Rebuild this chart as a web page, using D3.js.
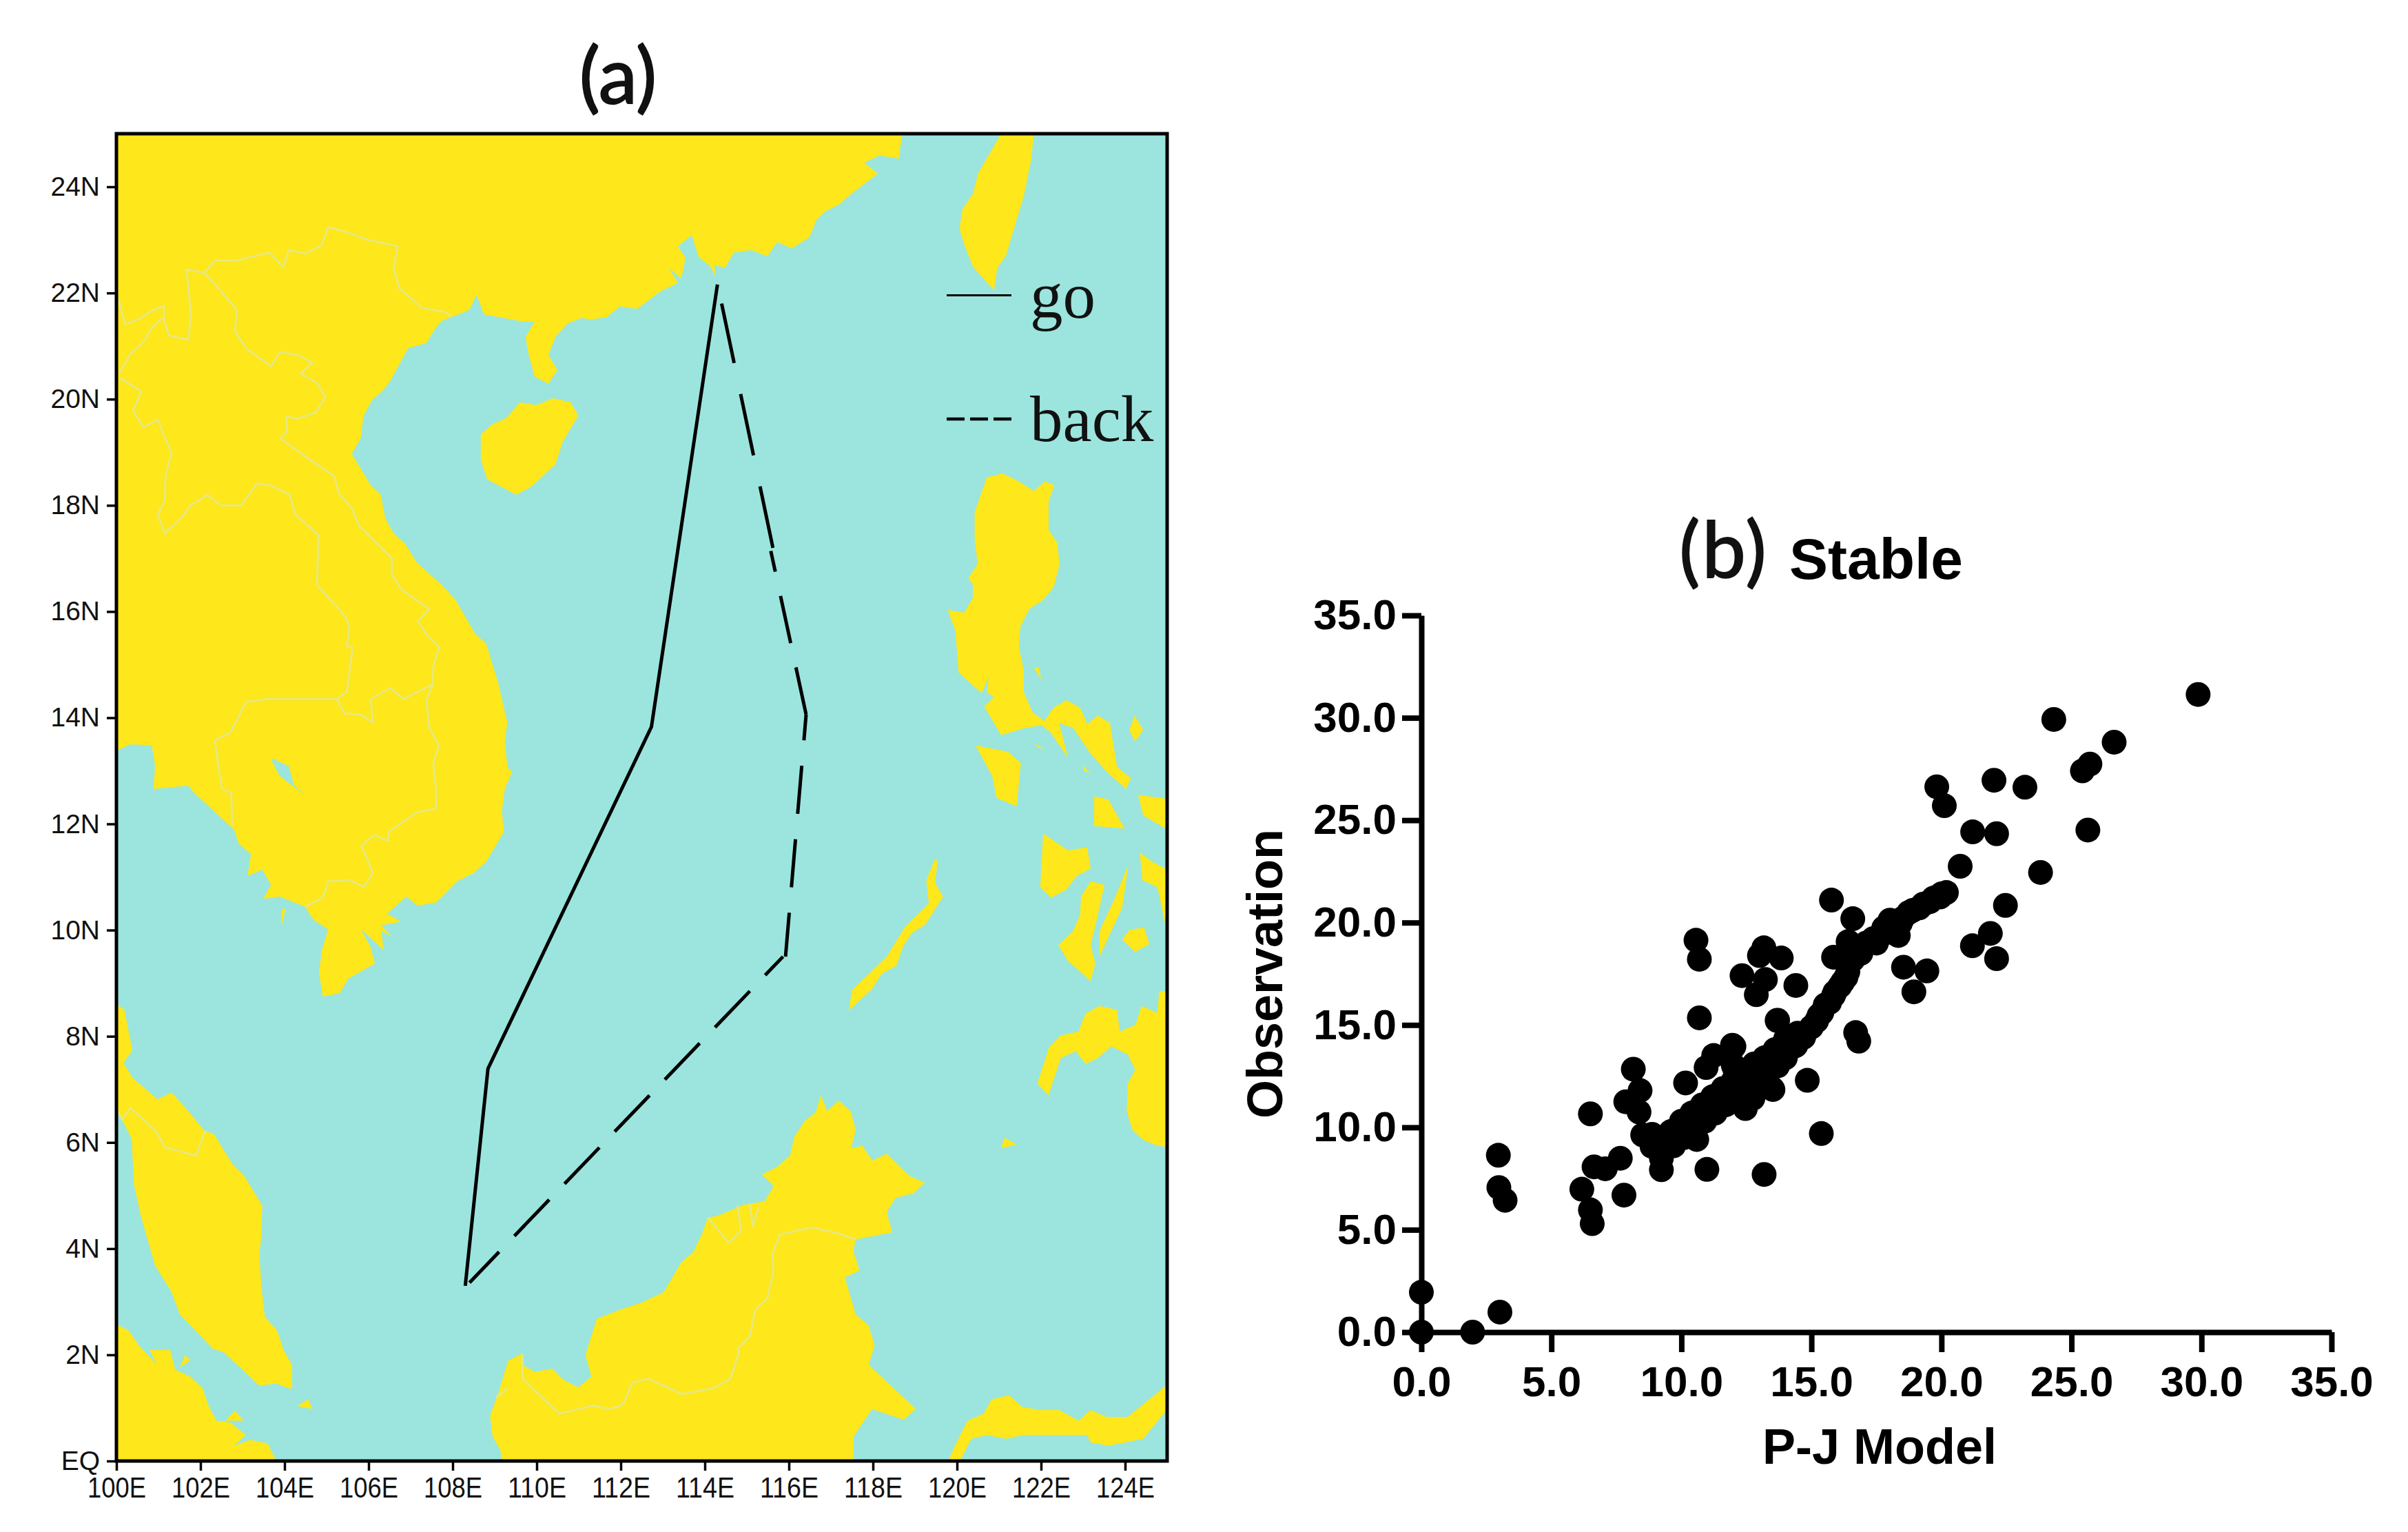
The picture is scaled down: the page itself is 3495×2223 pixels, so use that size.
<!DOCTYPE html>
<html>
<head>
<meta charset="utf-8">
<script src="https://cdn.jsdelivr.net/npm/d3@7"></script>
<style>
  body { margin: 0; background: #fff; }
  svg { display: block; }
</style>
</head>
<body>
<script>
// ---- panel (a): map data, all [lon, lat] ----
const lonTicks = [100, 102, 104, 106, 108, 110, 112, 114, 116, 118, 120, 122, 124];
const latTicks = [0, 2, 4, 6, 8, 10, 12, 14, 16, 18, 20, 22, 24];

const mainland = [[100,25],[118.69,25],[118.62,24.53],[118.16,24.59],[117.79,24.45],[118.12,24.25],[117.49,23.87],[117.2,23.67],[116.87,23.54],[116.66,23.38],[116.49,23.05],[116.07,22.84],[115.72,22.96],[115.49,22.69],[115.11,22.81],[114.69,22.76],[114.48,22.48],[114.23,22.52],[114.25,22.33],[114.11,22.52],[113.86,22.67],[113.69,23.09],[113.36,22.88],[113.54,22.66],[113.44,22.27],[113.15,22.47],[113.36,22.19],[112.94,22.03],[112.39,21.7],[111.98,21.75],[111.66,21.54],[111.25,21.5],[111.08,21.53],[110.74,21.43],[110.45,21.18],[110.28,20.83],[110.49,20.55],[110.28,20.29],[109.95,20.42],[109.78,20.93],[109.74,21.18],[109.95,21.46],[109.62,21.47],[108.74,21.6],[108.57,21.97],[108.4,21.68],[107.98,21.55],[107.73,21.47],[107.57,21.31],[107.38,21.06],[106.94,20.96],[106.52,20.35],[106.35,20.17],[106.08,19.98],[105.88,19.68],[105.81,19.26],[105.6,18.97],[106.06,18.37],[106.29,18.2],[106.4,17.75],[106.61,17.46],[106.86,17.29],[107.15,16.92],[107.73,16.51],[108.07,16.22],[108.53,15.59],[108.8,15.39],[109.09,14.64],[109.3,13.91],[109.24,13.53],[109.31,13.05],[109.42,12.99],[109.24,12.66],[109.17,12.24],[109.22,11.85],[108.8,11.29],[108.49,11.07],[108.11,10.92],[107.61,10.52],[107.17,10.46],[106.9,10.63],[106.44,10.31],[106.77,10.16],[106.3,10.09],[106.55,9.88],[106.31,9.98],[106.35,9.63],[105.81,10.02],[106.05,9.68],[106.15,9.37],[105.52,9.09],[105.31,8.81],[104.91,8.75],[104.82,9.2],[104.89,9.63],[105.04,10.01],[104.68,10.2],[104.49,10.44],[103.89,10.63],[103.49,10.59],[103.68,10.85],[103.47,11.14],[103.12,11.02],[103.2,11.43],[102.91,11.63],[102.8,11.89],[101.84,12.59],[101.71,12.72],[100.88,12.66],[100.92,13.09],[100.84,13.48],[100.33,13.5],[100,13.38]];
const tonleSap = [[103.68,13.24],[104.1,13.09],[104.22,12.74],[104.51,12.53],[103.89,12.9],[103.72,13.15]];
const hainan = [[109.6,19.94],[109.99,19.89],[110.39,20.02],[110.81,19.94],[110.99,19.69],[110.62,19.2],[110.45,18.78],[109.87,18.35],[109.51,18.2],[108.82,18.49],[108.67,18.86],[108.67,19.34],[108.95,19.53],[109.28,19.65]];
const taiwan = [[121.05,25],[121.83,25],[121.76,24.49],[121.59,23.83],[121.34,23.17],[121.17,22.71],[120.96,22.47],[120.88,22.05],[120.38,22.49],[120.17,22.92],[120.06,23.21],[120.13,23.58],[120.38,23.87],[120.5,24.25]];
const luzon = [[120.71,18.53],[121.09,18.6],[121.47,18.45],[121.83,18.27],[122.09,18.45],[122.32,18.38],[122.18,18.08],[122.18,17.54],[122.39,17.29],[122.44,16.88],[122.3,16.46],[122.05,16.22],[121.72,16.05],[121.51,15.72],[121.47,15.35],[121.59,14.89],[121.59,14.48],[121.8,14.1],[122.08,13.94],[122.3,14.19],[122.6,14.33],[122.93,14.19],[123.1,13.88],[123.35,14.04],[123.64,13.9],[123.81,13.07],[124.14,12.86],[124.02,12.66],[123.6,12.95],[123.18,13.32],[122.76,13.81],[122.43,13.9],[122.64,13.25],[122.22,13.73],[122.01,13.86],[121.59,13.8],[121.05,13.67],[120.65,14.21],[120.88,14.39],[120.71,14.48],[120.75,14.77],[120.59,14.46],[120.04,14.85],[119.96,15.64],[119.78,16.03],[120.17,15.98],[120.38,16.26],[120.38,16.51],[120.27,16.63],[120.49,16.89],[120.42,17.37],[120.42,17.87]];
const mindoro = [[120.44,13.48],[121.21,13.36],[121.52,13.15],[121.42,12.33],[120.94,12.49],[120.84,12.9]];
const palawan = [[119.46,11.31],[119.54,11.33],[119.48,10.89],[119.67,10.63],[119.25,10.11],[118.92,9.94],[118.71,9.68],[118.56,9.33],[118.21,9.18],[117.98,8.89],[117.43,8.49],[117.5,8.87],[118.33,9.5],[118.77,10.07],[119.33,10.5],[119.27,10.94]];
const panay = [[122.05,11.82],[122.64,11.5],[123.1,11.56],[123.18,11.16],[122.85,11.02],[122.6,10.76],[122.24,10.61],[121.98,10.81]];
const negros = [[123.18,10.92],[123.51,10.85],[123.3,10.11],[123.18,9.72],[123.29,9.37],[123.18,9.04],[122.64,9.42],[122.41,9.72],[122.76,9.98],[122.93,10.29],[122.95,10.63]];
const cebu = [[124.08,11.24],[123.93,10.42],[123.39,9.5],[123.39,9.98],[123.77,10.63]];
const bohol = [[123.93,9.82],[124.1,10],[124.45,10.05],[124.58,9.74],[124.24,9.59]];
const leyte = [[124.35,11.46],[124.64,11.29],[125.1,11.1],[125.1,10.1],[124.94,10.16],[124.77,10.81],[124.41,10.94]];
const samar = [[124.31,12.55],[125.1,12.46],[125.1,11.85],[124.43,12.16]];
const masbate = [[123.26,12.52],[123.6,12.46],[123.99,11.91],[123.26,11.96]];
const mindanao = [[121.91,7.11],[122.19,7.79],[122.47,8.02],[122.89,8.09],[123.06,8.43],[123.39,8.57],[123.81,8.5],[123.87,8.09],[124.25,8.22],[124.39,8.57],[124.77,8.44],[124.81,8.85],[125.1,8.85],[125.1,5.91],[124.77,5.94],[124.43,6.05],[124.17,6.24],[124.04,6.59],[124.06,7.11],[124.24,7.37],[124.06,7.66],[123.67,7.81],[123.35,7.59],[123.06,7.48],[122.83,7.72],[122.47,7.59],[122.18,6.89]];
const borneo = [[109.16,0],[109.14,0.2],[108.95,0.46],[108.89,0.85],[109.07,1.24],[109.32,1.89],[109.64,2.02],[109.67,1.81],[109.95,1.68],[110.37,1.74],[110.64,1.53],[110.99,1.39],[111.3,1.59],[111.16,2],[111.43,2.68],[111.98,2.85],[112.48,2.98],[113.02,3.18],[113.44,3.74],[113.73,3.94],[113.94,4.29],[114.07,4.59],[114.28,4.61],[114.94,4.83],[115.42,4.89],[115.64,5.18],[115.36,5.4],[115.74,5.55],[116.03,5.76],[116.13,6.11],[116.37,6.4],[116.64,6.57],[116.76,6.89],[116.91,6.59],[117.18,6.79],[117.47,6.59],[117.59,6.24],[117.48,5.89],[117.75,5.94],[117.98,5.66],[118.33,5.79],[118.87,5.37],[119.23,5.24],[118.96,5.04],[118.54,4.96],[118.33,4.69],[118.46,4.31],[117.58,4.17],[117.54,3.94],[117.68,3.59],[117.33,3.46],[117.59,2.76],[117.9,2.55],[118.04,2.18],[117.9,1.81],[119.02,0.98],[118.73,0.78],[117.98,0.98],[117.54,0.46],[117.54,0]];
const sulawesi = [[119.8,0],[119.92,0.24],[120.25,0.76],[120.63,0.89],[120.82,1.16],[121.24,1.24],[121.55,1.02],[121.97,0.96],[122.43,0.96],[122.89,0.76],[123.18,0.96],[123.56,0.83],[124.06,0.83],[125.1,1.5],[125.1,1.07],[124.43,0.42],[123.6,0.29],[123.18,0.35],[123.1,0.49],[121.59,0.49],[121.17,0.42],[120.71,0.49],[120.34,0.42],[120.07,0]];
const malayPeninsula = [[100,8.61],[100.19,8.5],[100.38,7.74],[100.17,7.5],[100.38,7.22],[100.98,6.81],[101.31,6.94],[101.67,6.63],[102.09,6.22],[102.32,6.16],[102.76,5.59],[103.05,5.36],[103.47,4.81],[103.45,4.24],[103.4,3.89],[103.45,3.29],[103.53,2.72],[103.82,2.46],[103.99,2.07],[104.18,1.81],[104.18,1.35],[103.8,1.46],[103.4,1.42],[102.55,2.05],[102.3,2.11],[101.51,2.76],[101.3,3.2],[100.92,3.68],[100.59,4.59],[100.42,5.2],[100.36,6.07],[100.03,6.59],[100,6.6]];
const sumatra = [[100,2.57],[100.29,2.46],[100.54,2.17],[100.96,1.82],[100.79,2.09],[101.28,2.09],[101.4,1.72],[101.76,1.59],[102.05,1.37],[102.2,1.03],[102.38,0.76],[102.72,0.72],[103.08,0.49],[102.8,0.29],[102.42,0.18],[103.18,0.4],[103.6,0.33],[103.8,0],[100,0]];
const smallIslands = [
  [[103.93,10.37],[104.03,10.42],[103.93,10.07]],
  [[121.84,14.93],[121.94,14.96],[122.01,14.71]],
  [[124.23,14.04],[124.43,13.77],[124.24,13.55],[124.1,13.77]],
  [[121.84,13.52],[122.09,13.4],[121.93,13.44]],
  [[122.97,13.11],[123.18,12.95],[123.03,13]],
  [[121.13,6.09],[121.42,5.96],[121.05,5.89]],
  [[101.51,1.76],[101.63,2],[101.76,1.9]],
  [[102.59,0.76],[102.82,0.95],[103.03,0.76]],
  [[104.29,1.04],[104.57,1.16],[104.66,0.98]]
];

const borderChina = [[100.04,21.89],[100.21,21.41],[100.54,21.51],[100.92,21.7],[101.13,21.75],[101.13,21.5],[101.25,21.2],[101.71,21.12],[101.77,21.6],[101.67,22.44],[102.09,22.38],[102.34,22.61],[102.84,22.61],[103.64,22.76],[103.97,22.49],[104.1,22.81],[104.49,22.74],[104.89,22.9],[105.03,23.24],[105.47,23.15],[105.98,23],[106.69,22.88],[106.6,22.47],[106.73,22.09],[107.27,21.72],[107.82,21.64],[107.98,21.55]];
const borderVietnam = [[102.09,22.38],[102.47,22.05],[102.87,21.68],[102.82,21.28],[103.09,20.95],[103.68,20.62],[103.89,20.89],[104.31,20.83],[104.67,20.69],[104.39,20.48],[104.77,20.31],[104.97,20.04],[104.74,19.75],[104.31,19.63],[104.04,19.68],[104.06,19.4],[103.9,19.26],[104.52,18.91],[105.18,18.55],[105.31,18.2],[105.6,17.95],[105.77,17.62],[106.56,17],[106.55,16.71],[106.77,16.42],[107.44,16.05],[107.17,15.82],[107.4,15.55],[107.68,15.33],[107.54,14.97],[107.53,14.63],[107.38,14.35],[107.44,13.81],[107.67,13.48],[107.54,13.15],[107.61,12.59],[107.6,12.29],[107.15,12.22],[106.48,11.85],[106.46,11.68],[106.13,11.79],[105.83,11.59],[106.1,11.07],[105.89,10.81],[105.56,10.94],[105.04,10.92],[104.91,10.61],[104.49,10.44]];
const borderLaos = [[100.08,20.4],[100.59,20.15],[100.4,19.78],[100.64,19.47],[100.98,19.61],[101.31,18.99],[101.17,18.57],[101.15,18.08],[100.98,17.83],[101.15,17.47],[101.53,17.75],[101.76,18],[102.17,18.2],[102.47,18],[102.97,18],[103.34,18.41],[103.68,18.37],[104.12,18.2],[104.26,17.83],[104.81,17.44],[104.77,16.5],[105.48,15.88],[105.54,15.64],[105.48,15.35],[105.62,15.32],[105.48,14.48],[105.24,14.35],[105.43,14.08],[105.81,14.06],[106.1,13.91],[106.05,14.35],[106.52,14.56],[106.83,14.35],[107.53,14.63]];
const borderCambodia = [[105.24,14.35],[103.55,14.35],[103.09,14.3],[102.72,13.73],[102.34,13.57],[102.42,13.15],[102.51,12.66],[102.73,12.59],[102.76,11.98]];
const borderMyanmar = [[100.08,20.5],[100.33,20.85],[100.67,21.1],[100.84,21.35],[101.11,21.53]];
const borderMalaysia = [[100.03,6.59],[100.13,6.43],[100.33,6.65],[100.94,6.22],[101.15,5.91],[101.9,5.75],[102.11,6.22]];
const borderSarawak = [[109.03,1.2],[109.31,1.37]];
const borderKalimantan = [[109.66,2.02],[109.66,1.55],[110.54,0.89],[111.33,1.04],[111.75,0.98],[111.98,1.04],[112.1,1.13],[112.27,1.48],[112.65,1.55],[113.46,1.26],[114.19,1.37],[114.61,1.55],[114.82,2.07],[114.78,2.11],[115.07,2.35],[115.2,2.85],[115.49,3.07],[115.63,3.55],[115.61,3.89],[115.78,4.26],[116.53,4.4],[117.16,4.29],[117.59,4.17]];
const borderBrunei = [[114.07,4.59],[114.57,4.11],[114.86,4.33],[114.78,4.81]];
const borderBrunei2 = [[115.07,4.85],[115.14,4.42],[115.28,4.76]];

const goTrack = [[114.3,22.16],[112.73,13.83],[108.84,7.39],[108.3,3.3]];
const backLegSouth = [[108.4,3.36],[115.86,9.5]];
const backLegMiddle = [[115.92,9.5],[116.41,14.06]];
const backLegUpper = [[116.41,14.06],[115.57,17.14]];
const backLegNorth = [[115.62,17.2],[114.4,21.8]];

// ---- panel (b): scatter data ----
const axisTicks = [0, 5, 10, 15, 20, 25, 30, 35];
const modelValues = [29.87,24.32,26.64,25.71,25.42,19.82,20.11,22.02,23.21,21.2,22.12,25.63,20.72,23.81,22.46,15.77,16.59,21.88,21.19,22.12,18.54,19.44,18.94,13.17,13,13.84,12.33,13.23,12.88,14.4,13.7,16.7,16.82,14.84,13.52,12.02,11.99,
  20.19,19.95,19.55,19.15,18.74,18.42,18.02,17.78,18.34,17.38,16.9,16.41,16.41,15.85,16.41,16.33,16.09,15.85,15.53,15.29,14.73,14.32,14,13.52,13.04,12.55,12.07,11.59,
  0,0,1.97,3.02,2.96,2.98,3.22,6.5,8.15,8.41,7.86,8.37,8.51,8.87,9.23,9.23,8.87,7.65,7.07,6.64,6.17,6.5,6.57,7.79,10.98,13.18,10.59,10.16,10.95,11.24,11.96,12.03,10.69,13.68,13.47,12.46,12.75,10.56,10.69,15.38,
  9.44,9.88,10.3,10.74,11.17,11.6,12.03,12.46,12.89,13.32,13.75,14.11,14.47,
  9.7,10.1,10.5,10.9,11.3,11.7,12.1,12.5,12.9,13.3,13.7,14,14.4,14.7,15,15.2,15.4,15.7,15.9,16.2,16.4,
  9.2,9.6,10,10.4,10.8,11.2,11.6,12,12.4,12.8,13.2,13.6,14,
  16.6,16.9,17.1,17.5,17.7,18.1,18.2,18.5,18.9,19.3,19.7,20];
const observedValues = [31.14,29.92,28.81,27.74,27.41,26.63,25.71,26.95,26.61,24.43,24.34,24.52,22.75,22.45,20.84,21.1,20.19,19.47,18.87,18.24,17.82,17.64,16.62,18.77,18.39,18.27,17.41,17.22,16.48,16.93,15.23,14.63,14.21,12.3,11.85,13.95,13.05,
  21.47,21.25,21.02,20.72,20.49,19.97,20.12,19.74,19.37,19.22,18.84,19.07,18.46,18.31,17.94,17.34,16.89,16.44,15.98,15.46,14.55,13.95,13.58,13.13,12.67,12.22,11.92,11.55,
  1.95,0,0,0.98,8.64,7.06,6.44,10.66,12.84,11.8,11.25,10.75,9.63,9.66,7.93,8.49,9.07,8.49,7.98,8.07,6.98,5.97,5.3,6.69,7.95,7.7,9.41,12.17,12.92,13.51,14.01,12.92,15.35,15.22,11.92,10.92,11.42,19.14,18.21,9.7,
  9.07,9.57,10.08,10.5,10.92,11.33,11.75,12.17,12.51,12.92,13.34,13.93,14.6,
  9.1,9.5,9.9,10.3,10.7,11.1,11.5,11.9,12.2,12.6,13,13.4,14,14.4,14.9,15.2,15.6,16.1,16.6,17.1,17.6,
  9.3,9.8,10.3,10.7,11.1,11.5,11.9,12.3,12.7,13.1,13.4,13.8,14.3,
  18.2,18.5,19,19,19.4,19.7,20,20.2,20.6,20.9,21.2,21.4];

const landColor = "#fee71a";
const seaColor = "#9be5de";
const borderColor = "#e6e880";

const svg = d3.select("body")
  .append("svg")
  .attr("width", 3495)
  .attr("height", 2223);

// ---- panel (a) ----
const lon = d3.scaleLinear().domain([100, 125]).range([169, 1694]);
const lat = d3.scaleLinear().domain([0, 25]).range([2120, 194]);

const mapLine = d3.line().x(d => lon(d[0])).y(d => lat(d[1]));

svg.append("defs").append("clipPath")
  .attr("id", "map-clip")
  .append("rect")
  .attr("x", lon(100))
  .attr("y", lat(25))
  .attr("width", lon(125) - lon(100))
  .attr("height", lat(0) - lat(25));

const map = svg.append("g").attr("clip-path", "url(#map-clip)");

map.append("rect")
  .attr("x", lon(100))
  .attr("y", lat(25))
  .attr("width", lon(125) - lon(100))
  .attr("height", lat(0) - lat(25))
  .attr("fill", seaColor);

const landShapes = [mainland, hainan, taiwan, luzon, mindoro, palawan, panay, negros, cebu, bohol, leyte, samar, masbate, mindanao, borneo, sulawesi, malayPeninsula, sumatra].concat(smallIslands);

map.selectAll("path.land")
  .data(landShapes)
  .enter()
  .append("path")
  .attr("class", "land")
  .attr("d", d => mapLine(d) + "Z")
  .attr("fill", landColor);

map.append("path")
  .attr("d", mapLine(tonleSap) + "Z")
  .attr("fill", seaColor);

const borderLines = [borderChina, borderVietnam, borderLaos, borderCambodia, borderMyanmar, borderMalaysia, borderSarawak, borderKalimantan, borderBrunei, borderBrunei2];

map.selectAll("path.border")
  .data(borderLines)
  .enter()
  .append("path")
  .attr("class", "border")
  .attr("d", mapLine)
  .attr("fill", "none")
  .attr("stroke", borderColor)
  .attr("stroke-width", 3);

// tracks
map.append("path")
  .attr("d", mapLine(goTrack))
  .attr("fill", "none")
  .attr("stroke", "#000")
  .attr("stroke-width", 5);

const backLegs = [
  { points: backLegSouth, dash: "73 32", offset: 11 },
  { points: backLegMiddle, dash: "70 37", offset: 6 },
  { points: backLegUpper, dash: "70 36", offset: 0 },
  { points: backLegNorth, dash: "91 46", offset: 0 }
];

map.selectAll("path.back")
  .data(backLegs)
  .enter()
  .append("path")
  .attr("class", "back")
  .attr("d", d => mapLine(d.points))
  .attr("fill", "none")
  .attr("stroke", "#000")
  .attr("stroke-width", 5)
  .attr("stroke-dasharray", d => d.dash)
  .attr("stroke-dashoffset", d => d.offset);

// legend
const legendLabels = ["go", "back"];
const legendLat = [21.54, 19.21];

const legend = svg.append("g");
legend.selectAll("line")
  .data(legendLabels)
  .enter()
  .append("line")
  .attr("x1", 1374)
  .attr("x2", 1468)
  .attr("y1", (d, i) => lat(legendLat[i]) - 32)
  .attr("y2", (d, i) => lat(legendLat[i]) - 32)
  .attr("stroke", "#000")
  .attr("stroke-width", (d, i) => i == 0 ? 3 : 4.5)
  .attr("stroke-dasharray", (d, i) => i == 0 ? null : "26 8");

legend.selectAll("text")
  .data(legendLabels)
  .enter()
  .append("text")
  .attr("x", 1495)
  .attr("y", (d, i) => lat(legendLat[i]))
  .attr("font-family", "Liberation Serif")
  .attr("font-size", 95)
  .attr("fill", "#111")
  .text(d => d);

// map frame and axes
const mapBottom = svg.append("g")
  .attr("transform", "translate(0," + lat(0) + ")")
  .call(d3.axisBottom(lon).tickValues(lonTicks).tickFormat(d => d + "E").tickSizeOuter(0).tickSize(14));
mapBottom.selectAll("text")
  .attr("font-size", 42)
  .attr("font-family", "Liberation Sans")
  .attr("fill", "#111")
  .attr("textLength", 85)
  .attr("lengthAdjust", "spacingAndGlyphs")
  .attr("dy", 0)
  .attr("y", 53);
mapBottom.selectAll("line").attr("stroke-width", 3.5);
mapBottom.select(".domain").remove();

const mapLeft = svg.append("g")
  .attr("transform", "translate(" + lon(100) + ",0)")
  .call(d3.axisLeft(lat).tickValues(latTicks).tickFormat(d => d == 0 ? "EQ" : d + "N").tickSizeOuter(0).tickSize(14));
mapLeft.selectAll("text")
  .attr("font-size", 39)
  .attr("font-family", "Liberation Sans")
  .attr("fill", "#111")
  .attr("x", -24);
mapLeft.selectAll("line").attr("stroke-width", 3.5);
mapLeft.select(".domain").remove();

svg.append("rect")
  .attr("x", lon(100))
  .attr("y", lat(25))
  .attr("width", lon(125) - lon(100))
  .attr("height", lat(0) - lat(25))
  .attr("fill", "none")
  .attr("stroke", "#000")
  .attr("stroke-width", 5);

svg.append("text")
  .attr("x", 897)
  .attr("y", 150)
  .attr("text-anchor", "middle")
  .attr("font-family", "Lato")
  .attr("font-size", 113)
  .attr("fill", "#111")
  .attr("stroke", "#111")
  .attr("stroke-width", 2)
  .text("(a)");

// ---- panel (b) ----
const x = d3.scaleLinear().domain([0, 35]).range([2063, 3384]);
const y = d3.scaleLinear().domain([0, 35]).range([1933, 893]);

function styleAxis(g) {
  g.select(".domain").attr("stroke-width", 8);
  g.selectAll(".tick line").attr("stroke-width", 8);
  g.selectAll("text")
    .attr("font-family", "Liberation Sans")
    .attr("font-weight", "bold")
    .attr("font-size", 62)
    .attr("fill", "#000");
}

svg.append("g")
  .attr("transform", "translate(0," + y(0) + ")")
  .call(d3.axisBottom(x).tickValues(axisTicks).tickFormat(d3.format(".1f")).tickSize(29).tickSizeOuter(0).tickPadding(20))
  .call(styleAxis);

svg.append("g")
  .attr("transform", "translate(" + x(0) + ",0)")
  .call(d3.axisLeft(y).tickValues(axisTicks).tickFormat(d3.format(".1f")).tickSize(28).tickSizeOuter(0).tickPadding(8))
  .call(styleAxis);

svg.append("g")
  .selectAll("circle")
  .data(modelValues)
  .enter()
  .append("circle")
  .attr("cx", d => x(d))
  .attr("cy", (d, i) => y(observedValues[i]))
  .attr("r", 18)
  .attr("fill", "#000");

svg.append("text")
  .attr("x", 2728)
  .attr("y", 2124)
  .attr("text-anchor", "middle")
  .attr("font-family", "Liberation Sans")
  .attr("font-weight", "bold")
  .attr("font-size", 72)
  .text("P-J Model");

svg.append("text")
  .attr("transform", "translate(1861,1413) rotate(-90)")
  .attr("text-anchor", "middle")
  .attr("font-family", "Liberation Sans")
  .attr("font-weight", "bold")
  .attr("font-size", 72)
  .text("Observation");

svg.append("text")
  .attr("x", 2502)
  .attr("y", 838)
  .attr("text-anchor", "middle")
  .attr("font-family", "Lato")
  .attr("font-size", 113)
  .attr("fill", "#111")
  .attr("stroke", "#111")
  .attr("stroke-width", 2)
  .attr("letter-spacing", 3)
  .text("(b)");

svg.append("text")
  .attr("x", 2597)
  .attr("y", 840)
  .attr("font-family", "Liberation Sans")
  .attr("font-weight", "bold")
  .attr("font-size", 84)
  .text("Stable");
</script>
</body>
</html>
